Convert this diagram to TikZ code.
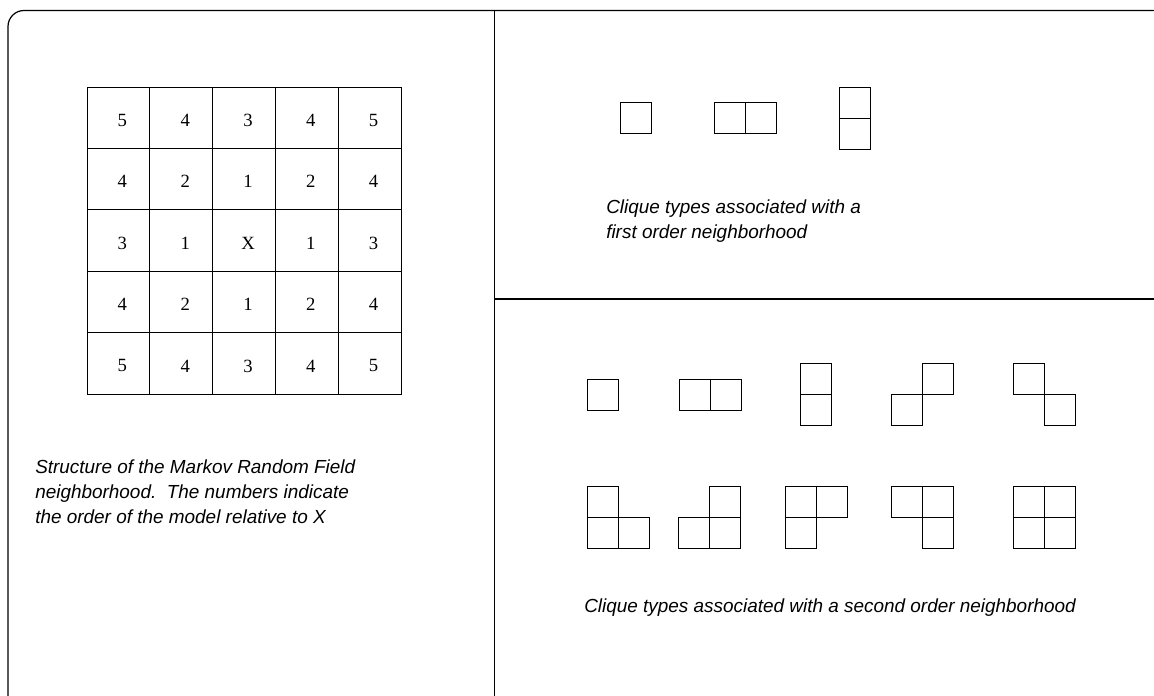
\documentclass[tikz,border=0pt]{standalone}
\usepackage{fontspec}
\newfontfamily\capfont{Liberation Sans}
\newfontfamily\numfont{Liberation Serif}
\usetikzlibrary{positioning}

\begin{document}
\begin{tikzpicture}[
x=0.75pt, y=-0.75pt,
node distance=0pt,
% Define styles
frame/.style = {line width=0.9pt},
gcell/.style = {rectangle, draw=black, line width=0.75pt, minimum width=47.1pt, minimum height=46.05pt, inner sep=0pt, outer sep=0pt},
num/.style = {inner sep=0pt, font=\numfont\fontsize{14}{16}\selectfont},
cell/.style = {rectangle, draw=black, line width=0.75pt, minimum width=23.25pt, minimum height=23.25pt, inner sep=0pt, outer sep=0pt},
caption/.style = {font=\capfont\itshape\fontsize{14.2}{18.4}\selectfont, align=left, inner sep=0pt, anchor=base west}
]
\useasboundingbox (0,0) rectangle (1154,696);
\clip (0,0) rectangle (1154,696);

% Frame
\draw [frame, rounded corners=12] (8,710) -- (8,10.5) -- (1170,10.5);
\draw [frame] (494.5,10.5) -- (494.5,710);
\draw [frame] (494.5,299) -- (1170,299);

% Neighborhood grid
\foreach [count=\r] \row in {{5,4,3,4,5},{4,2,1,2,4},{3,1,X,1,3},{4,2,1,2,4},{5,4,3,4,5}}
  \foreach [count=\c] \v in \row {
    \node [gcell] (g-\r-\c) at ({87+62.8*(\c-0.5)},{87+61.4*(\r-0.5)}) {};
    \node [num] (n-\r-\c) at ([xshift=3pt,yshift=-2pt]g-\r-\c.center) {\v};
  }

% First order cliques
\node (f1) [cell] at (636,118) {};
\node (f2a) [cell] at (730,118) {};
\node (f2b) [cell, right=of f2a] {};
\node (f3a) [cell] at (855.3,103) {};
\node (f3b) [cell, below=of f3a] {};

% Second order cliques, first row
\node (s1) [cell] at (603.3,394.6) {};
\node (s2a) [cell] at (694.5,394.6) {};
\node (s2b) [cell, right=of s2a] {};
\node (s3a) [cell] at (816,379) {};
\node (s3b) [cell, below=of s3a] {};
\node (s4a) [cell] at (907,410) {};
\node (s4b) [cell, above right=of s4a] {};
\node (s5a) [cell] at (1028.5,379) {};
\node (s5b) [cell, below right=of s5a] {};

% Second order cliques, second row
\node (s6a) [cell] at (603.3,502) {};
\node (s6b) [cell, below=of s6a] {};
\node (s6c) [cell, right=of s6b] {};
\node (s7a) [cell] at (725.3,502) {};
\node (s7b) [cell, below=of s7a] {};
\node (s7c) [cell, left=of s7b] {};
\node (s8a) [cell] at (801,502) {};
\node (s8b) [cell, right=of s8a] {};
\node (s8c) [cell, below=of s8a] {};
\node (s9a) [cell] at (907,502) {};
\node (s9b) [cell, right=of s9a] {};
\node (s9c) [cell, below=of s9b] {};
\node (s10a) [cell] at (1029,502) {};
\node (s10b) [cell, right=of s10a] {};
\node (s10c) [cell, below=of s10a] {};
\node (s10d) [cell, right=of s10c] {};

% Captions (base is the last line)
\node (capGrid) [caption] at (35,523) {Structure of the Markov Random Field\\neighborhood.\ \ The numbers indicate\\the order of the model relative to X};
\node (capFirst) [caption] at (606,238) {Clique types associated with a\\first order neighborhood};
\node (capSecond) [caption] at (584,612) {Clique types associated with a second order neighborhood};
\end{tikzpicture}
\end{document}
